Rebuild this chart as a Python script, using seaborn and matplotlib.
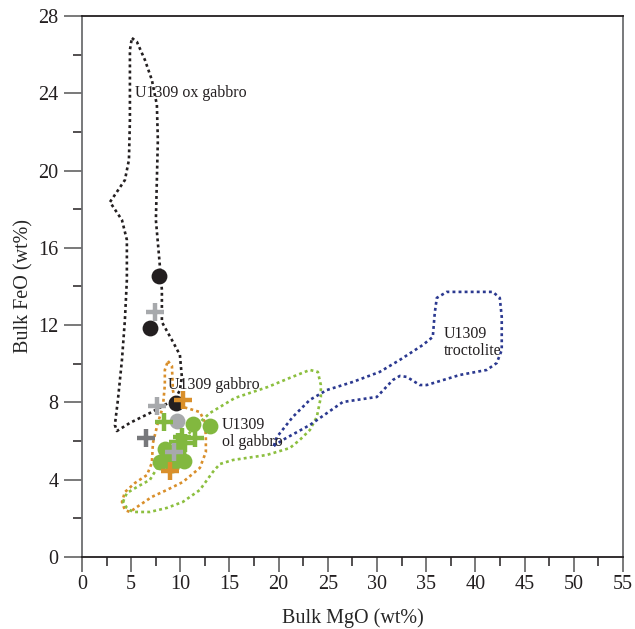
import numpy as np
import pandas as pd
import matplotlib
matplotlib.use("Agg")
import matplotlib.pyplot as plt
from matplotlib.ticker import MultipleLocator
import seaborn as sns

# ---- field outlines (MgO, FeO in wt%) ----
ox_gabbro_mgo = [5.08, 5.59, 6.40, 7.11, 7.62, 7.72, 7.62, 7.52, 7.83, 8.13, 8.13, 9.15, 9.96,
                 10.16, 9.96, 9.55, 8.43, 6.91, 4.88, 3.56, 3.35, 3.66, 4.07, 4.37, 4.57, 4.57,
                 4.07, 2.85, 3.35, 4.37, 4.78, 4.88, 4.88, 4.88, 5.08]
ox_gabbro_feo = [26.86, 26.66, 25.73, 24.69, 23.40, 21.58, 19.51, 17.44, 15.63, 13.82, 12.16,
                 11.23, 10.46, 9.32, 8.64, 8.23, 7.87, 7.45, 6.94, 6.52, 6.83, 8.13, 10.20, 12.27,
                 14.34, 16.41, 17.44, 18.37, 18.74, 19.51, 20.55, 22.62, 24.69, 26.24, 26.86]

gabbro_mgo = [8.74, 9.15, 9.25, 9.55, 10.98, 11.99, 12.50, 12.60, 12.60, 11.99, 10.26, 8.64,
              7.11, 5.89, 4.88, 4.37, 4.07, 4.37, 5.39, 6.61, 7.11, 7.22, 7.72, 8.23, 8.43, 8.43, 8.74]
gabbro_feo = [10.14, 9.89, 8.64, 7.87, 7.66, 7.50, 6.99, 6.21, 5.43, 4.61, 3.88, 3.47, 3.11,
              2.69, 2.33, 2.43, 2.85, 3.36, 3.83, 4.24, 4.87, 5.90, 6.94, 7.76, 8.90, 9.68, 10.14]

ol_gabbro_mgo = [4.17, 4.57, 5.59, 6.91, 7.72, 8.94, 10.26, 11.69, 13.01, 15.55, 18.90, 21.14,
                 23.17, 23.98, 24.29, 24.29, 23.88, 23.17, 22.15, 21.14, 18.80, 15.35, 14.02,
                 13.31, 11.99, 10.26, 8.64, 6.91, 5.18, 4.57, 4.17]
ol_gabbro_feo = [2.85, 3.31, 3.62, 3.99, 4.66, 5.54, 6.06, 6.83, 7.45, 8.23, 8.80, 9.27, 9.68,
                 9.58, 8.90, 8.28, 7.25, 6.57, 6.06, 5.64, 5.28, 5.02, 4.81, 4.40, 3.47, 2.85,
                 2.54, 2.33, 2.33, 2.54, 2.85]

troctolite_mgo = [19.51, 19.82, 21.44, 23.17, 24.90, 27.54, 30.28, 32.32, 34.65, 35.67, 35.87,
                  36.08, 37.09, 41.77, 42.48, 42.68, 42.68, 42.17, 41.16, 38.41, 35.06, 34.35,
                  33.03, 32.32, 31.61, 29.98, 29.27, 26.52, 23.17, 20.43, 19.51]
troctolite_feo = [5.75, 6.21, 7.25, 8.13, 8.64, 9.06, 9.58, 10.20, 10.97, 11.39, 12.63, 13.41,
                  13.72, 13.72, 13.41, 12.42, 10.71, 10.04, 9.68, 9.42, 8.90, 8.90, 9.32, 9.37,
                  9.16, 8.28, 8.23, 8.02, 6.83, 6.06, 5.75]

# ---- samples ----
black_circle_mgo = [7.83, 6.90, 9.55]
black_circle_feo = [14.54, 11.85, 7.97]
grey_circle_mgo = [9.70]
grey_circle_feo = [7.04]
green_circle_mgo = [11.30, 13.00, 8.43, 7.93, 9.15, 10.37, 9.76, 8.74]
green_circle_feo = [6.88, 6.78, 5.59, 4.92, 4.76, 4.97, 5.43, 5.23]
green_cross_mgo = [8.33, 10.16, 11.48, 10.47, 9.76]
green_cross_feo = [6.99, 6.21, 6.16, 5.90, 5.95]
light_cross_mgo = [7.40, 7.60, 9.40]
light_cross_feo = [12.70, 7.80, 5.43]
dark_cross_mgo = [6.50]
dark_cross_feo = [6.16]
orange_cross_mgo = [10.30, 9.00]
orange_cross_feo = [8.10, 4.45]

sns.set_style("ticks")
plt.rcParams["font.family"] = ["Liberation Serif", "DejaVu Serif"]
plt.rcParams["text.color"] = "#231f20"

fig = plt.figure(figsize=(6.35, 6.29), dpi=100)
ax = fig.add_axes([0.129, 0.1145, 0.852, 0.8601])

dot = (0, (1.1, 1.2))
fields = [
    (ox_gabbro_mgo, ox_gabbro_feo, "#231f20"),
    (gabbro_mgo, gabbro_feo, "#d98f2b"),
    (ol_gabbro_mgo, ol_gabbro_feo, "#8cbf3f"),
    (troctolite_mgo, troctolite_feo, "#2b3990"),
]
for mx, fy, col in fields:
    d = pd.DataFrame({"MgO": mx, "FeO": fy})
    sns.lineplot(data=d, x="MgO", y="FeO", sort=False, estimator=None, ax=ax,
                 color=col, lw=1.9, linestyle=dot, dash_capstyle="butt", zorder=2)

circle_kw = dict(s=130, linewidth=0, zorder=3, legend=False)
sns.scatterplot(x=black_circle_mgo, y=black_circle_feo, color="#231f20", ax=ax, **circle_kw)
sns.scatterplot(x=grey_circle_mgo, y=grey_circle_feo, color="#a7a9ac", ax=ax, **circle_kw)
sns.scatterplot(x=green_circle_mgo, y=green_circle_feo, color="#82b83f", ax=ax, **circle_kw)

cross_kw = dict(marker="+", s=150, linewidth=3.2, zorder=4, legend=False)
sns.scatterplot(x=green_cross_mgo, y=green_cross_feo, color="#82b83f", ax=ax, **cross_kw)
sns.scatterplot(x=dark_cross_mgo, y=dark_cross_feo, color="#77787b", ax=ax, **cross_kw)
sns.scatterplot(x=light_cross_mgo, y=light_cross_feo, color="#a7a9ac", ax=ax, **cross_kw)
sns.scatterplot(x=orange_cross_mgo, y=orange_cross_feo, color="#d98f2b", ax=ax, **cross_kw)

lab_kw = dict(fontsize=11.5, color="#231f20", va="center", ha="left", zorder=5)
ax.text(5.4, 24.0, "U1309 ox gabbro", **lab_kw)
ax.text(8.8, 8.9, "U1309 gabbro", **lab_kw)
ax.text(14.2, 6.4, "U1309\nol gabbro", linespacing=1.05, **lab_kw)
ax.text(36.8, 11.1, "U1309\ntroctolite", linespacing=1.05, **lab_kw)

ax.set_xlim(0, 55)
ax.set_ylim(0, 28)
ax.xaxis.set_major_locator(MultipleLocator(5))
ax.xaxis.set_minor_locator(MultipleLocator(2.5))
ax.yaxis.set_major_locator(MultipleLocator(4))
ax.yaxis.set_minor_locator(MultipleLocator(2))
ax.tick_params(which="major", direction="out", width=1.1, color="#555555",
               labelsize=14.5, labelcolor="#231f20")
ax.tick_params(axis="x", which="major", length=11, pad=2)
ax.tick_params(axis="y", which="major", length=13, pad=4)
ax.tick_params(which="minor", direction="out", length=6.5, width=1.1, color="#231f20")

ax.set_xlabel("Bulk MgO (wt%)", fontsize=14.5, labelpad=10)
ax.set_ylabel("Bulk FeO (wt%)", fontsize=14.5, labelpad=3)

for side, col in [("left", "#6d6e71"), ("bottom", "#231f20"), ("top", "#231f20"), ("right", "#6d6e71")]:
    ax.spines[side].set_visible(True)
    ax.spines[side].set_color(col)
    ax.spines[side].set_linewidth(1.3)

fig.savefig("out.png", dpi=100)
